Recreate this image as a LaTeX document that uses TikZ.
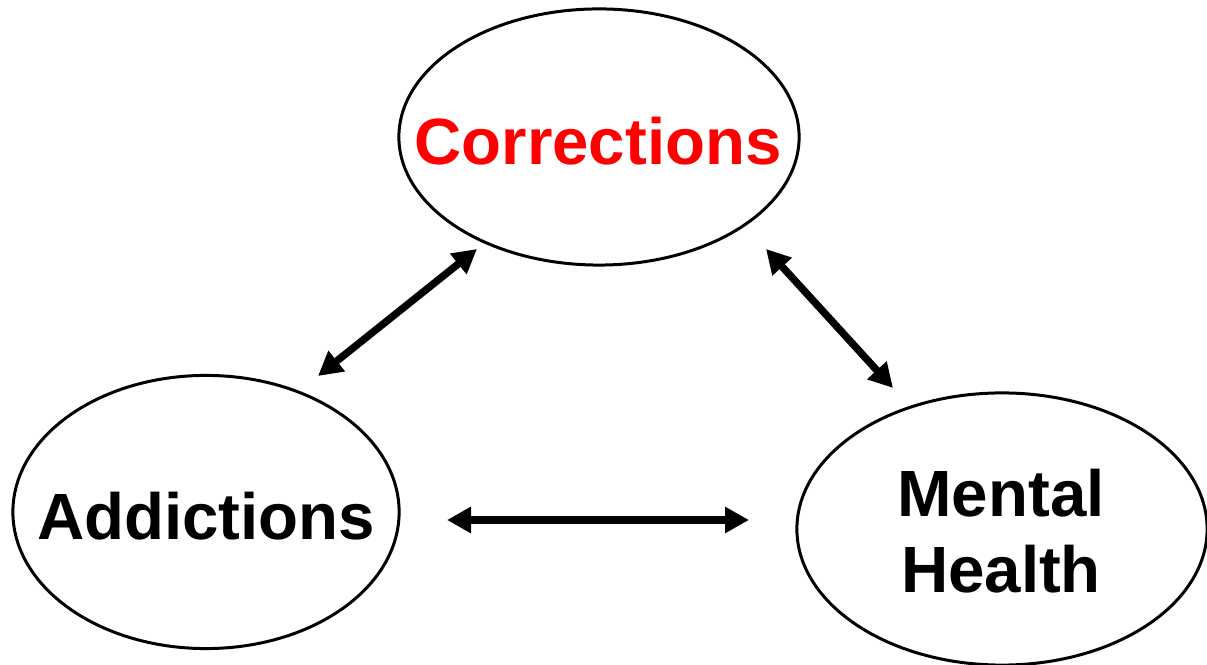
\documentclass[tikz,border=0pt]{standalone}
\usepackage{fontspec}
\setmainfont{Liberation Sans}
\usetikzlibrary{arrows.meta}
\begin{document}
\begin{tikzpicture}[x=0.01cm,y=-0.01cm,
  label/.style={inner sep=0pt,align=center,
    font=\fontsize{18.6pt}{22pt}\selectfont\bfseries},
  ring/.style={draw=black,line width=0.85pt},
  link/.style={line width=2.1pt,{Triangle[length=0.24cm,width=0.25cm]}-{Triangle[length=0.24cm,width=0.25cm]}}]
\useasboundingbox (0,0) rectangle (1207,665);
\node[label,text=red] (cor) at (598,141) {Corrections};
\node[label] (add) at (206,516) {Addictions};
\node[label] (mh) at (1001,531) {Mental\\[-0.6pt]Health};
\draw[ring] (599,137) ellipse [x radius=2.00cm, y radius=1.28cm];
\draw[ring] (206,512) ellipse [x radius=1.93cm, y radius=1.365cm];
\draw[ring] (1002,529) ellipse [x radius=2.05cm, y radius=1.36cm];
\coordinate (a1) at (318,376);
\coordinate (a2) at (477,249);
\coordinate (b1) at (766,249);
\coordinate (b2) at (893,388);
\coordinate (c1) at (447,520);
\coordinate (c2) at (749,520);
\draw[link] (a1) -- (a2);
\draw[link] (b1) -- (b2);
\draw[link] (c1) -- (c2);
\end{tikzpicture}
\end{document}
